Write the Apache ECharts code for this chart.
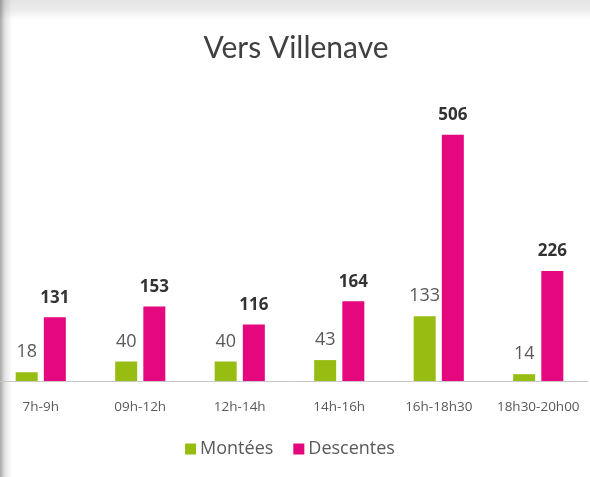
<!DOCTYPE html>
<html>
<head>
<meta charset="utf-8">
<script src="https://cdn.jsdelivr.net/npm/echarts@6/dist/echarts.min.js"></script>
<style>
  html, body { margin: 0; padding: 0; overflow: hidden; }
  body {
    width: 590px;
    height: 477px;
    position: relative;
    background:
      linear-gradient(to right, rgba(60,60,60,0.45) 0, rgba(120,120,120,0.2) 5px, rgba(255,255,255,0) 12px),
      linear-gradient(to bottom, #e4e4e4 0, #ececec 10px, #f6f6f6 15px, #fff 20px);
  }
  /* le graphique déborde un peu à gauche, comme sur la capture */
  #chart { position: absolute; left: -10px; top: 0; width: 600px; height: 477px; }
</style>
</head>
<body>
<div id="chart"></div>
<script>
// créneaux horaires
const categories = ['7h-9h', '09h-12h', '12h-14h', '14h-16h', '16h-18h30', '18h30-20h00']
const montees = [18, 40, 40, 43, 133, 14]
const descentes = [131, 153, 116, 164, 506, 226]

const fontFamily = 'Open Sans, Noto Sans, sans-serif'

const chart = echarts.init(document.getElementById('chart'))

const option = {
  backgroundColor: 'transparent',
  title: {
    text: 'Vers Villenave',
    left: 301,
    textAlign: 'center',
    top: 28,
    textStyle: { fontSize: 30, fontWeight: 'normal', color: '#404040', fontFamily: 'Lato, sans-serif' }
  },
  legend: {
    data: ['Montées', 'Descentes'],
    bottom: 14,
    left: 'center',
    itemWidth: 11,
    itemHeight: 11,
    itemGap: 20,
    icon: 'rect',
    textStyle: { fontSize: 18, color: '#595959', fontFamily: fontFamily, padding: [0, 0, 0, -1] }
  },
  grid: {
    left: 1,
    right: 2,
    top: 89,
    bottom: 96
  },
  xAxis: {
    type: 'category',
    data: categories,
    axisLine: { lineStyle: { color: '#c8c8c8', width: 1 } },
    axisTick: { show: false },
    axisLabel: { interval: 0, fontSize: 13.5, color: '#595959', margin: 19, fontFamily: fontFamily }
  },
  yAxis: {
    type: 'value',
    min: 0,
    max: 600,
    show: false
  },
  series: [
    {
      name: 'Montées',
      type: 'bar',
      data: montees,
      barWidth: 22,
      barGap: '28%',
      itemStyle: { color: '#97bd12' },
      label: {
        show: true,
        position: 'top',
        distance: 11,
        fontSize: 18,
        color: '#595959',
        fontFamily: fontFamily
      }
    },
    {
      name: 'Descentes',
      type: 'bar',
      data: descentes,
      barWidth: 22,
      itemStyle: { color: '#e4077e' },
      label: {
        show: true,
        position: 'top',
        distance: 11,
        fontSize: 17,
        fontWeight: 'bold',
        color: '#333',
        fontFamily: fontFamily
      }
    }
  ]
}

chart.setOption(option)
</script>
</body>
</html>
